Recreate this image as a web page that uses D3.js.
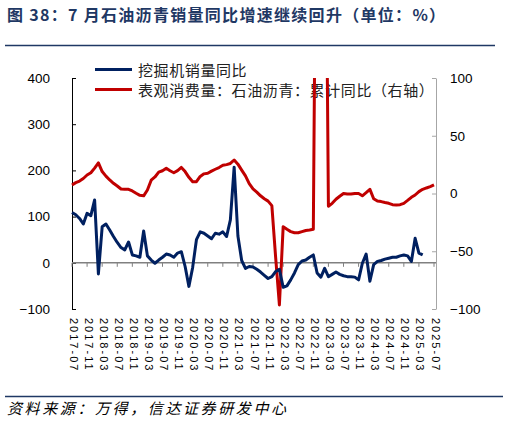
<!DOCTYPE html>
<meta charset="utf-8">
<style>
  body { margin: 0; background: #fff; }
  svg { display: block; }
</style>
<body>
<div id="chart"></div>
<script src="https://cdn.jsdelivr.net/npm/d3@7"></script>
<script>

// monthly categories, 2017-07 .. 2025-07
var months = d3.timeMonth.range(new Date(2017, 6, 1), new Date(2025, 7, 1)).map(d3.timeFormat("%Y-%m"));

// labelled months on the x axis (every 4 months)
var tickLabels = ["2017-07","2017-11","2018-03","2018-07","2018-11","2019-03","2019-07","2019-11",
  "2020-03","2020-07","2020-11","2021-03","2021-07","2021-11","2022-03","2022-07","2022-11",
  "2023-03","2023-07","2023-11","2024-03","2024-07","2024-11","2025-03","2025-07"];

var leftTicks = [400, 300, 200, 100, 0, -100];
var rightTicks = [100, 50, 0, -50, -100];

// 挖掘机销量同比 (%), 2017-07 .. 2025-04, left axis
var excavator = [109, 104, 96, 84, 107, 102, 136, -24, 78, 84, 71, 57,
  44, 33, 28, 45, 17, 15, 12, 69, 15, 6, -1, 6,
  12, 19, 17, 12, 21, 24, -8, -51, -10, 50, 67, 64,
  58, 52, 64, 62, 67, 57, 93, 207, 58, 5, -12, -8,
  -9, -14, -20, -27, -34, -30, -19, -14, -53, -50, -37, -22,
  -4, 4, 6, 12, 17, -22, -31, -12, -30, -25, -20, -25,
  -28, -30, -30, -31, -37, -1, 19, -40, -4, 3, 5, 8,
  10, 12, 12, 15, 17, 15, 3, 53, 21, 17];

// 表观消费量：石油沥青：累计同比 (%), 2017-07 .. 2025-07, right axis
var asphalt = [7.4, 9.4, 10.8, 13, 16, 18, 22, 26.5, 19, 15, 11.7, 8.8,
  6.5, 3.9, 3.6, 3.6, 2.2, 0.2, -1.6, -2, 3, 11.5, 14.3, 18.5,
  19.7, 21.8, 19.7, 18, 19.8, 22.6, 19, 14, 10.2, 10.2, 14.8, 17,
  17.5, 19.4, 21, 22.5, 24.4, 25, 26, 29, 25.4, 20.2, 15.2, 8.5,
  4, 1.2, -2, -4.5, -6.6, -10.5, -55, -96.5, -28.7, -31, -33, -34,
  -34, -33, -32, -31.6, -31, 400, 420, 380, -11, -8.5, -5, -2.4,
  0, -0.5, -0.5, 0, 0, -2, 0.7, 3.6, -4.5, -6.5, -7, -7.8,
  -8.5, -9.7, -10, -9.7, -8.5, -6, -3.3, -1.3, 1.6, 3.6, 4.8, 5.9, 7.4];

var W = 509, H = 424;
var plot = {left: 72, right: 436, top: 78, bottom: 309};
var navy = "#002060", red = "#c00000", titleBlue = "#1f3864";

var svg = d3.select("#chart").append("svg")
    .attr("width", W)
    .attr("height", H)
    .style("background", "#fff");

// title + rules
svg.append("text")
    .attr("x", 7).attr("y", 21)
    .attr("font-family", "'Noto Sans CJK SC', sans-serif")
    .attr("font-size", 16).attr("font-weight", "bold")
    .attr("letter-spacing", 1.3)
    .attr("fill", titleBlue)
    .text("图 38：7 月石油沥青销量同比增速继续回升（单位：%）");

svg.append("line")
    .attr("x1", 5).attr("x2", 495).attr("y1", 45.5).attr("y2", 45.5)
    .attr("stroke", titleBlue).attr("stroke-width", 1.5);

svg.append("line")
    .attr("x1", 5).attr("x2", 503).attr("y1", 396.5).attr("y2", 396.5)
    .attr("stroke", titleBlue).attr("stroke-width", 1.5);

svg.append("text")
    .attr("x", 7).attr("y", 414)
    .attr("font-family", "'Noto Sans CJK SC', sans-serif")
    .attr("font-size", 15).attr("font-style", "italic")
    .attr("letter-spacing", 2.6)
    .attr("fill", "#000")
    .text("资料来源：万得，信达证券研发中心");

// scales
var x = d3.scalePoint().domain(months).range([plot.left, 434]);
var yL = d3.scaleLinear().domain([-100, 400]).range([plot.bottom, plot.top]);
var yR = d3.scaleLinear().domain([-100, 100]).range([plot.bottom, plot.top]);

// left axis
var gL = svg.append("g")
    .attr("transform", "translate(" + plot.left + ",0)")
    .call(d3.axisLeft(yL).tickValues(leftTicks).tickSizeInner(-4).tickSizeOuter(0).tickPadding(22));
gL.select(".domain").attr("stroke", "#000");
gL.selectAll(".tick line").attr("stroke", "#000");
gL.selectAll("text").attr("font-family", "'Liberation Sans', Arial, sans-serif").attr("font-size", 13.5).attr("fill", "#000");

// right axis
var gR = svg.append("g")
    .attr("transform", "translate(" + plot.right + ",0)")
    .call(d3.axisRight(yR).tickValues(rightTicks).tickSizeInner(-4).tickSizeOuter(0).tickPadding(14));
gR.select(".domain").attr("stroke", "#a6a6a6");
gR.selectAll(".tick line").attr("stroke", "#a6a6a6");
gR.selectAll("text").attr("font-family", "'Liberation Sans', Arial, sans-serif").attr("font-size", 13.5).attr("fill", "#000");

// zero line (category axis) with ticks every 4 months
var y0 = yL(0);
svg.append("line")
    .attr("x1", plot.left).attr("x2", plot.right)
    .attr("y1", y0).attr("y2", y0)
    .attr("stroke", "#808080").attr("stroke-width", 1.5);

svg.append("g").selectAll("line")
    .data(tickLabels)
    .enter().append("line")
      .attr("x1", function(d) { return x(d); })
      .attr("x2", function(d) { return x(d); })
      .attr("y1", y0).attr("y2", y0 + 4)
      .attr("stroke", "#808080").attr("stroke-width", 1);

// x labels, rotated, below the plot
svg.append("g").selectAll("text")
    .data(tickLabels)
    .enter().append("text")
      .attr("transform", function(d) { return "translate(" + (x(d) + 1.5) + ",318) rotate(90)"; })
      .attr("dominant-baseline", "central")
      .attr("text-anchor", "start")
      .attr("font-family", "'Liberation Sans', Arial, sans-serif")
      .attr("font-size", 11)
      .attr("letter-spacing", 2)
      .attr("fill", "#000")
      .text(function(d) { return d; });

// legend
var legend = [
  {name: "挖掘机销量同比", color: navy, y: 69.5},
  {name: "表观消费量：石油沥青：累计同比（右轴）", color: red, y: 89.5}
];
var lg = svg.append("g").selectAll("g").data(legend).enter().append("g");
lg.append("line")
    .attr("x1", 95).attr("x2", 132)
    .attr("y1", function(d) { return d.y; }).attr("y2", function(d) { return d.y; })
    .attr("stroke", function(d) { return d.color; }).attr("stroke-width", 3);
lg.append("text")
    .attr("x", 138).attr("y", function(d) { return d.y; })
    .attr("dominant-baseline", "central")
    .attr("font-family", "'Noto Sans CJK SC', sans-serif")
    .attr("font-size", 15)
    .attr("letter-spacing", 0.6)
    .attr("fill", "#222")
    .text(function(d) { return d.name; });

// series
svg.append("clipPath").attr("id", "plotclip")
  .append("rect")
    .attr("x", plot.left - 2).attr("y", plot.top)
    .attr("width", plot.right - plot.left + 2).attr("height", plot.bottom - plot.top + 4);

var lines = svg.append("g").attr("clip-path", "url(#plotclip)");

lines.append("path")
    .datum(asphalt)
    .attr("fill", "none")
    .attr("stroke", red)
    .attr("stroke-width", 3)
    .attr("stroke-linejoin", "round")
    .attr("d", d3.line()
      .x(function(d, i) { return x(months[i]); })
      .y(function(d) { return yR(d); }));

lines.append("path")
    .datum(excavator)
    .attr("fill", "none")
    .attr("stroke", navy)
    .attr("stroke-width", 3)
    .attr("stroke-linejoin", "round")
    .attr("d", d3.line()
      .x(function(d, i) { return x(months[i]); })
      .y(function(d) { return yL(d); }));

</script>
